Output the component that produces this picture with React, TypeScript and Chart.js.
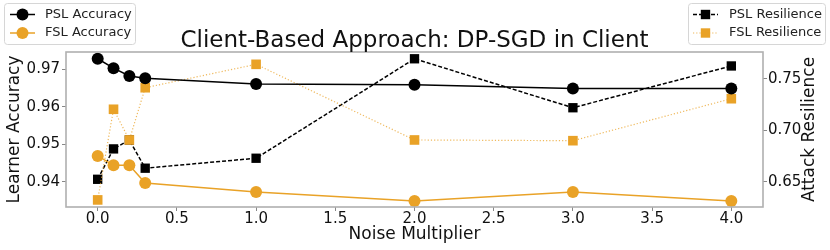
import React, { useEffect, useRef } from "react";
import { Chart, registerables } from "chart.js";

Chart.register(...registerables);

const noiseMultipliers = [0, 0.1, 0.2, 0.3, 1.0, 2.0, 3.0, 4.0];
const pslAccuracy = [0.9728, 0.9703, 0.9682, 0.9676, 0.9661, 0.9659, 0.9649, 0.9649];
const fslAccuracy = [0.9469, 0.9444, 0.9444, 0.9397, 0.9373, 0.9349, 0.9373, 0.9349];
const pslResilience = [0.6523, 0.6819, 0.6906, 0.6631, 0.6728, 0.7697, 0.722, 0.7627];
const fslResilience = [0.6322, 0.7205, 0.6906, 0.7415, 0.7643, 0.6906, 0.6899, 0.7308];

const xTickValues = [0, 0.5, 1.0, 1.5, 2.0, 2.5, 3.0, 3.5, 4.0];
const leftTickValues = [0.94, 0.95, 0.96, 0.97];
const rightTickValues = [0.65, 0.7, 0.75];

const titleText = "Client-Based Approach: DP-SGD in Client";
const xTitle = "Noise Multiplier";
const leftTitle = "Learner Accuracy";
const rightTitle = "Attack Resilience";

const BLACK = "#000000";
const ORANGE = "#e9a227";
const ORANGE_LIGHT = "rgba(233,162,39,0.75)";
const FONT = '"DejaVu Sans", Verdana, sans-serif';

function toPoints(xs: number[], ys: number[]) {
  return xs.map((x, i) => ({ x, y: ys[i] }));
}

const decorPlugin = {
  id: "decor",
  afterDraw(chart: any) {
    const ctx = chart.ctx as CanvasRenderingContext2D;
    const area = chart.chartArea;
    ctx.save();
    // frame
    ctx.strokeStyle = "#b0b0b0";
    ctx.lineWidth = 1.6;
    ctx.strokeRect(area.left, area.top, area.right - area.left, area.bottom - area.top);

    // title
    const cx = (area.left + area.right) / 2;
    ctx.fillStyle = "#111";
    ctx.font = `23px ${FONT}`;
    ctx.textAlign = "center";
    ctx.textBaseline = "alphabetic";
    ctx.fillText(titleText, cx, 47);

    // x title
    ctx.font = `17px ${FONT}`;
    ctx.textBaseline = "middle";
    ctx.fillText(xTitle, cx, 235);

    // left title
    const cy = (area.top + area.bottom) / 2;
    ctx.save();
    ctx.translate(15, cy);
    ctx.rotate(-Math.PI / 2);
    ctx.fillText(leftTitle, 0, 0);
    ctx.restore();

    // right title
    ctx.save();
    ctx.translate(810, cy);
    ctx.rotate(-Math.PI / 2);
    ctx.fillText(rightTitle, 0, 0);
    ctx.restore();

    // legends
    const drawBox = (x: number, y: number, w: number, h: number) => {
      ctx.beginPath();
      (ctx as any).roundRect(x, y, w, h, 3);
      ctx.fillStyle = "rgba(255,255,255,0.8)";
      ctx.fill();
      ctx.strokeStyle = "#d6d6d6";
      ctx.lineWidth = 1;
      ctx.stroke();
    };
    const drawEntry = (
      x0: number,
      x1: number,
      y: number,
      color: string,
      lineColor: string,
      lineWidth: number,
      dash: number[],
      marker: "circle" | "square",
      text: string,
      textX: number
    ) => {
      ctx.beginPath();
      ctx.setLineDash(dash);
      ctx.strokeStyle = lineColor;
      ctx.lineWidth = lineWidth;
      ctx.moveTo(x0, y);
      ctx.lineTo(x1, y);
      ctx.stroke();
      ctx.setLineDash([]);
      const mx = (x0 + x1) / 2;
      ctx.fillStyle = color;
      ctx.beginPath();
      if (marker === "circle") {
        ctx.arc(mx, y, 6, 0, Math.PI * 2);
      } else {
        ctx.rect(mx - 4.7, y - 4.7, 9.4, 9.4);
      }
      ctx.fill();
      ctx.fillStyle = "#222";
      ctx.font = `13px ${FONT}`;
      ctx.textAlign = "left";
      ctx.textBaseline = "middle";
      ctx.fillText(text, textX, y);
    };

    drawBox(4.5, 3.5, 131, 41);
    drawEntry(10, 35, 14.5, BLACK, BLACK, 1.5, [], "circle", "PSL Accuracy", 45);
    drawEntry(10, 35, 33, ORANGE, ORANGE, 1.5, [], "circle", "FSL Accuracy", 45);

    drawBox(688.5, 3.5, 137, 41);
    drawEntry(693, 718, 14.5, BLACK, BLACK, 1.5, [4, 2], "square", "PSL Resilience", 729);
    drawEntry(693, 718, 33, ORANGE, ORANGE_LIGHT, 1.2, [1.2, 2], "square", "FSL Resilience", 729);

    ctx.restore();
  },
};

export default function App() {
  const canvasRef = useRef<HTMLCanvasElement | null>(null);

  useEffect(() => {
    document.body.style.margin = "0";
    const canvas = canvasRef.current;
    if (!canvas) return;

    const tickFont = { family: FONT, size: 15, lineHeight: 1 };

    const chart = new Chart(canvas, {
      type: "line",
      data: {
        datasets: [
          {
            label: "PSL Accuracy",
            data: toPoints(noiseMultipliers, pslAccuracy),
            yAxisID: "yL",
            borderColor: BLACK,
            backgroundColor: BLACK,
            pointBackgroundColor: BLACK,
            pointBorderColor: BLACK,
            borderWidth: 1.5,
            pointStyle: "circle",
            pointRadius: 6,
            pointBorderWidth: 0,
            tension: 0,
            order: 0,
          },
          {
            label: "FSL Accuracy",
            data: toPoints(noiseMultipliers, fslAccuracy),
            yAxisID: "yL",
            borderColor: ORANGE,
            backgroundColor: ORANGE,
            pointBackgroundColor: ORANGE,
            pointBorderColor: ORANGE,
            borderWidth: 1.5,
            pointStyle: "circle",
            pointRadius: 6,
            pointBorderWidth: 0,
            tension: 0,
            order: 1,
          },
          {
            label: "FSL Resilience",
            data: toPoints(noiseMultipliers, fslResilience),
            yAxisID: "yR",
            borderColor: ORANGE_LIGHT,
            backgroundColor: ORANGE,
            pointBackgroundColor: ORANGE,
            pointBorderColor: ORANGE,
            borderWidth: 1.2,
            borderDash: [1.2, 2],
            pointStyle: "rect",
            pointRadius: 6.8,
            pointBorderWidth: 0,
            tension: 0,
            order: 2,
          },
          {
            label: "PSL Resilience",
            data: toPoints(noiseMultipliers, pslResilience),
            yAxisID: "yR",
            borderColor: BLACK,
            backgroundColor: BLACK,
            pointBackgroundColor: BLACK,
            pointBorderColor: BLACK,
            borderWidth: 1.5,
            borderDash: [4, 2],
            pointStyle: "rect",
            pointRadius: 6.6,
            pointBorderWidth: 0,
            tension: 0,
            order: 3,
          },
        ],
      },
      options: {
        responsive: false,
        devicePixelRatio: 1,
        animation: false,
        events: [],
        layout: { padding: { top: 52, left: 0, right: 0, bottom: 0 } },
        plugins: {
          legend: { display: false },
          title: { display: false },
          tooltip: { enabled: false },
        },
        scales: {
          x: {
            type: "linear",
            min: -0.2,
            max: 4.2,
            afterBuildTicks: (scale: any) => {
              scale.ticks = xTickValues.map((v) => ({ value: v }));
            },
            afterFit: (scale: any) => {
              scale.height = 43;
            },
            ticks: {
              font: tickFont,
              color: "#111",
              padding: 1,
              maxRotation: 0,
              autoSkip: false,
              callback: (v: any) => Number(v).toFixed(1),
            },
            grid: { drawOnChartArea: false, drawTicks: true, tickLength: 4, color: "#888" },
            border: { display: false },
          },
          yL: {
            type: "linear",
            position: "left",
            min: 0.9333,
            max: 0.9746,
            afterBuildTicks: (scale: any) => {
              scale.ticks = leftTickValues.map((v) => ({ value: v }));
            },
            afterFit: (scale: any) => {
              scale.width = 66;
            },
            ticks: {
              font: tickFont,
              color: "#111",
              padding: 2,
              autoSkip: false,
              callback: (v: any) => Number(v).toFixed(2),
            },
            grid: { drawOnChartArea: false, drawTicks: true, tickLength: 4, color: "#888" },
            border: { display: false },
          },
          yR: {
            type: "linear",
            position: "right",
            min: 0.6253,
            max: 0.7763,
            afterBuildTicks: (scale: any) => {
              scale.ticks = rightTickValues.map((v) => ({ value: v }));
            },
            afterFit: (scale: any) => {
              scale.width = 67;
            },
            ticks: {
              font: tickFont,
              color: "#111",
              padding: 1,
              autoSkip: false,
              callback: (v: any) => Number(v).toFixed(2),
            },
            grid: { drawOnChartArea: false, drawTicks: true, tickLength: 4, color: "#888" },
            border: { display: false },
          },
        },
      },
      plugins: [decorPlugin],
    });

    return () => {
      chart.destroy();
    };
  }, []);

  return (
    <div style={{ position: "absolute", left: 0, top: 0, width: 830, height: 250 }}>
      <canvas ref={canvasRef} width={830} height={250} style={{ width: 830, height: 250 }} />
    </div>
  );
}
